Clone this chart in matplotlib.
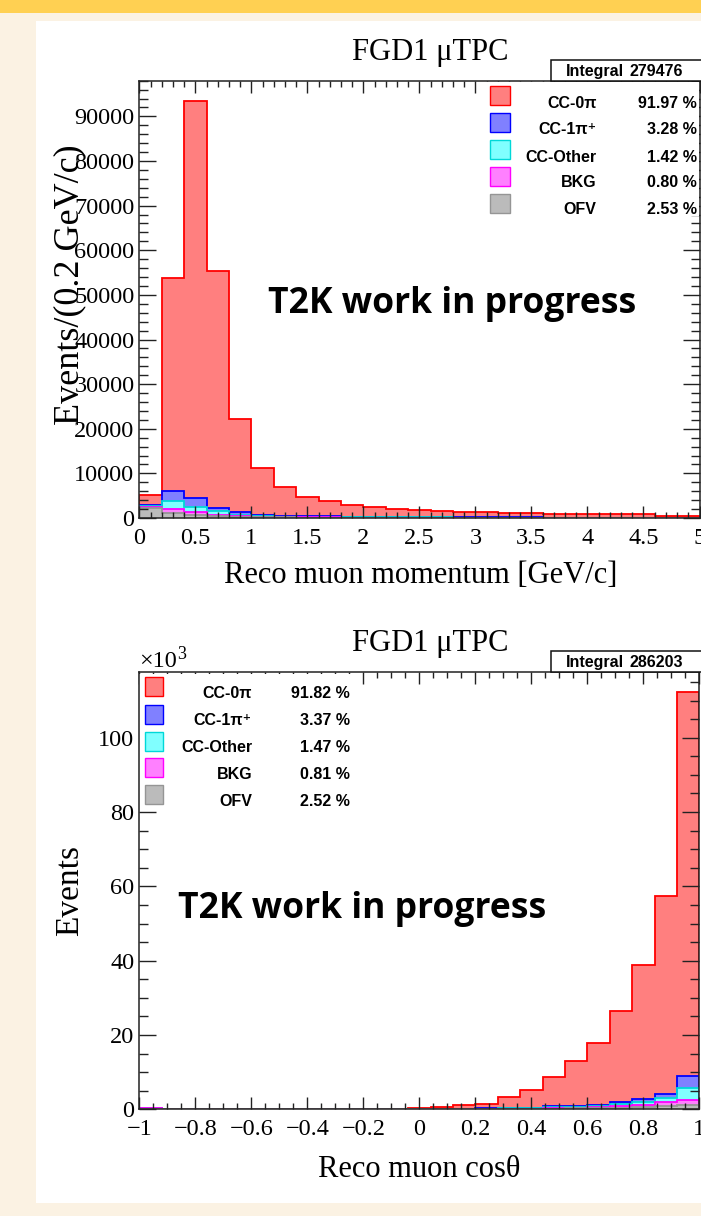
import matplotlib
matplotlib.use("Agg")
import matplotlib.pyplot as plt
from matplotlib.patches import Rectangle
from matplotlib.ticker import MultipleLocator, FuncFormatter
import numpy as np

# ---------------- data ----------------
categories = ["CC-0π", "CC-1π⁺", "CC-Other", "BKG", "OFV"]

# momentum histogram, 25 bins of 0.2 GeV/c from 0 to 5
mom_range = (0.0, 5.0)
mom_nbins = 25
mom_0pi = [2160, 47750, 89100, 53160, 20750, 10530, 6500, 4410, 3450, 2580, 2170, 1830,
           1630, 1340, 1200, 1160, 1020, 930, 900, 850, 800, 800, 810, 380, 380]
mom_1pi = [300, 2350, 2010, 740, 600, 320, 190, 100, 130, 80, 60, 50, 40, 40, 40, 40,
           30, 30, 30, 30, 30, 30, 30, 20, 20]
mom_other = [250, 1700, 1120, 750, 380, 200, 150, 120, 100, 80, 70, 60, 50, 50, 40, 40,
             40, 30, 30, 30, 30, 30, 20, 20, 20]
mom_bkg = [250, 900, 520, 230, 150, 80, 60, 50, 40, 30, 30, 20, 20, 20, 20, 20, 20, 20,
           10, 10, 10, 10, 10, 10, 10]
mom_ofv = [2200, 1100, 750, 520, 220, 150, 120, 100, 90, 80, 70, 60, 60, 50, 50, 40, 40,
           40, 30, 30, 30, 30, 30, 20, 20]
mom_percent = ["91.97 %", "3.28 %", "1.42 %", "0.80 %", "2.53 %"]
mom_integral = "279476"

# cos theta histogram, 25 bins of 0.08 from -1 to 1
cos_range = (-1.0, 1.0)
cos_nbins = 25
cos_0pi = [0, 0, 0, 0, 0, 0, 0, 0, 0, 10, 5, 10, 170, 580, 930, 1270, 3050, 4830, 7850,
           12040, 16650, 24500, 36000, 53500, 103300]
cos_1pi = [0, 0, 0, 0, 0, 0, 0, 0, 0, 0, 5, 10, 20, 30, 40, 60, 90, 130, 300, 300, 350,
           500, 700, 1000, 3200]
cos_other = [0, 0, 0, 0, 0, 0, 0, 0, 0, 0, 5, 10, 20, 30, 50, 70, 120, 150, 250, 250, 350,
             550, 800, 1000, 3300]
cos_bkg = [250, 0, 0, 0, 0, 0, 0, 0, 0, 0, 5, 10, 10, 20, 30, 40, 60, 90, 140, 190, 250,
           400, 600, 1100, 1300]
cos_ofv = [0, 0, 0, 0, 0, 0, 0, 0, 0, 0, 10, 20, 30, 40, 50, 60, 80, 100, 160, 220, 300,
           450, 600, 900, 1200]
cos_percent = ["91.82 %", "3.37 %", "1.47 %", "0.81 %", "2.52 %"]
cos_integral = "286203"

title_text = "FGD1 μTPC"
wip_text = "T2K work in progress"

# ---------------- style ----------------
fill_colors = ["#ff7f7f", "#8080ff", "#80ffff", "#ff80ff", "#bbbbbb"]
line_colors = ["#ff0000", "#0000ff", "#00d8d8", "#ff00ff", "#959595"]
SERIF = ["Liberation Serif", "DejaVu Serif"]
SANS = ["Liberation Sans", "DejaVu Sans"]
plt.rcParams["font.family"] = SERIF

W, H = 701, 1216
fig = plt.figure(figsize=(W / 100, H / 100), dpi=100)
fig.patch.set_facecolor("#fbf2e3")


def fx(x):
    return x / W


def fy(y):
    return 1 - y / H


# background band and white panel
fig.add_artist(Rectangle((0, fy(13)), 1, 13 / H, transform=fig.transFigure,
                         facecolor="#ffd052", edgecolor="none", zorder=-10))
fig.add_artist(Rectangle((fx(36), fy(1203)), (W - 36) / W, (1203 - 21) / H,
                         transform=fig.transFigure, facecolor="white",
                         edgecolor="none", zorder=-9))


def draw_stack(ax, edges, comps):
    # comps ordered bottom->top : ofv, bkg, other, 1pi, 0pi
    cum = np.cumsum(np.array(comps, dtype=float), axis=0)
    for i in range(len(comps) - 1, -1, -1):
        ci = len(comps) - 1 - i  # colour index (0pi is index 0)
        ax.stairs(cum[i], edges, fill=True, facecolor=fill_colors[ci],
                  edgecolor="none", zorder=1)
        ax.stairs(cum[i], edges, fill=False, edgecolor=line_colors[ci],
                  linewidth=1.3, zorder=1.1)


def style_axes(ax):
    for s in ax.spines.values():
        s.set_linewidth(1.1)
        s.set_color("#222222")
    ax.tick_params(axis="both", which="both", direction="in", top=True, right=True,
                   width=1.0, color="#222222", labelsize=17.5)
    ax.tick_params(axis="y", which="major", length=12.2, pad=3.5)
    ax.tick_params(axis="y", which="minor", length=6.2)
    ax.tick_params(axis="x", which="major", length=8.8, pad=7)
    ax.tick_params(axis="x", which="minor", length=4.4)


def gfmt(v, p):
    v = round(v, 6)
    if v == 0:
        v = 0.0
        return "0"
    return f"{v:g}".replace("-", "\u2212")


# ---------------- top plot ----------------
ax1 = fig.add_axes([fx(139.3), fy(518), 560.2 / W, 437.3 / H])
mom_edges = np.linspace(mom_range[0], mom_range[1], mom_nbins + 1)
draw_stack(ax1, mom_edges, [mom_ofv, mom_bkg, mom_other, mom_1pi, mom_0pi])
ax1.set_xlim(*mom_range)
ax1.set_ylim(0, 98000)
ax1.xaxis.set_major_locator(MultipleLocator(0.5))
ax1.xaxis.set_minor_locator(MultipleLocator(0.1))
ax1.yaxis.set_major_locator(MultipleLocator(10000))
ax1.yaxis.set_minor_locator(MultipleLocator(2000))
ax1.xaxis.set_major_formatter(FuncFormatter(gfmt))
ax1.yaxis.set_major_formatter(FuncFormatter(lambda v, p: f"{v:.0f}"))
style_axes(ax1)
ax1.add_patch(Rectangle(((478 - 139.3) / 560.2, (518 - 216) / 437.3),
                        (699 - 478) / 560.2, (216 - 82) / 437.3,
                        transform=ax1.transAxes, facecolor="white", edgecolor="none",
                        zorder=2, clip_on=False))

# ---------------- bottom plot ----------------
ax2 = fig.add_axes([fx(139.3), fy(1109.3), 560.0 / W, 437.0 / H])
cos_edges = np.linspace(cos_range[0], cos_range[1], cos_nbins + 1)
draw_stack(ax2, cos_edges, [cos_ofv, cos_bkg, cos_other, cos_1pi, cos_0pi])
ax2.set_xlim(*cos_range)
ax2.set_ylim(0, 117600)
ax2.xaxis.set_major_locator(MultipleLocator(0.2))
ax2.xaxis.set_minor_locator(MultipleLocator(0.05))
ax2.yaxis.set_major_locator(MultipleLocator(20000))
ax2.yaxis.set_minor_locator(MultipleLocator(5000))
ax2.xaxis.set_major_formatter(FuncFormatter(gfmt))
ax2.yaxis.set_major_formatter(FuncFormatter(lambda v, p: f"{v / 1000:.0f}"))
style_axes(ax2)
ax2.add_patch(Rectangle((0, (1109.3 - 808) / 437.0), (360 - 139.3) / 560.0,
                        (808 - 673.5) / 437.0, transform=ax2.transAxes,
                        facecolor="white", edgecolor="none", zorder=2, clip_on=False))

# ---------------- texts ----------------
for base in (60, 651):
    fig.text(fx(430.5), fy(base), title_text, ha="center", va="baseline",
             fontsize=22, family=SERIF)

fig.text(fx(420.5), fy(583), "Reco muon momentum [GeV/c]", ha="center",
         va="baseline", fontsize=22, family=SERIF)
fig.text(fx(419), fy(1177), "Reco muon cosθ", ha="center", va="baseline",
         fontsize=22, family=SERIF)
fig.text(fx(78), fy(285), "Events/(0.2 GeV/c)", rotation=90, rotation_mode="anchor",
         ha="center", va="baseline", fontsize=26, family=SERIF)
fig.text(fx(78), fy(891), "Events", rotation=90, rotation_mode="anchor",
         ha="center", va="baseline", fontsize=24, family=SERIF)
fig.text(fx(139), fy(667), "×10", ha="left", va="baseline", fontsize=17.5,
         family=SERIF)
fig.text(fx(177.5), fy(659), "3", ha="left", va="baseline", fontsize=13,
         family=SERIF)

fig.text(fx(268), fy(313), wip_text, ha="left", va="baseline", fontsize=25.6,
         family=["Open Sans", "DejaVu Sans"], fontweight="bold")
fig.text(fx(178), fy(918), wip_text, ha="left", va="baseline", fontsize=25.6,
         family=["Open Sans", "DejaVu Sans"], fontweight="bold")

# integral boxes
for top, val in ((60, mom_integral), (650.7, cos_integral)):
    fig.add_artist(Rectangle((fx(551), fy(top + 21.3)), (705 - 551) / W, 21.3 / H,
                             transform=fig.transFigure, facecolor="white",
                             edgecolor="#111111", linewidth=1.1, zorder=5))
    fig.text(fx(566), fy(top + 16), "Integral", ha="left", va="baseline",
             fontsize=11.5, family=SANS, fontweight="bold", zorder=6)
    fig.text(fx(683), fy(top + 16), val, ha="right", va="baseline",
             fontsize=11.5, family=SANS, fontweight="bold", zorder=6)


# legends
def legend(sw_x0, sw_x1, sw_centers, txt_base, lab_right, pct_right, percents):
    for i, cat in enumerate(categories):
        h = 19
        fig.add_artist(Rectangle((fx(sw_x0), fy(sw_centers[i] + h / 2)),
                                 (sw_x1 - sw_x0) / W, h / H, transform=fig.transFigure,
                                 facecolor=fill_colors[i], edgecolor=line_colors[i],
                                 linewidth=1.0, zorder=5))
        fig.text(fx(lab_right), fy(txt_base[i]), cat, ha="right", va="baseline",
                 fontsize=11.5, family=SANS, fontweight="bold", zorder=6)
        fig.text(fx(pct_right), fy(txt_base[i]), percents[i], ha="right",
                 va="baseline", fontsize=11.5, family=SANS, fontweight="bold",
                 zorder=6)


legend(490, 510.5, [95.5, 122.5, 149, 176, 203.5],
       [108, 134, 161.5, 187, 214.5], 596.7, 696.7, mom_percent)
legend(145, 163.3, [686.7, 714, 741, 767, 794.5],
       [698.5, 725, 752.5, 779, 805.5], 252, 350, cos_percent)

fig.savefig("out.png", dpi=100, facecolor=fig.get_facecolor())
